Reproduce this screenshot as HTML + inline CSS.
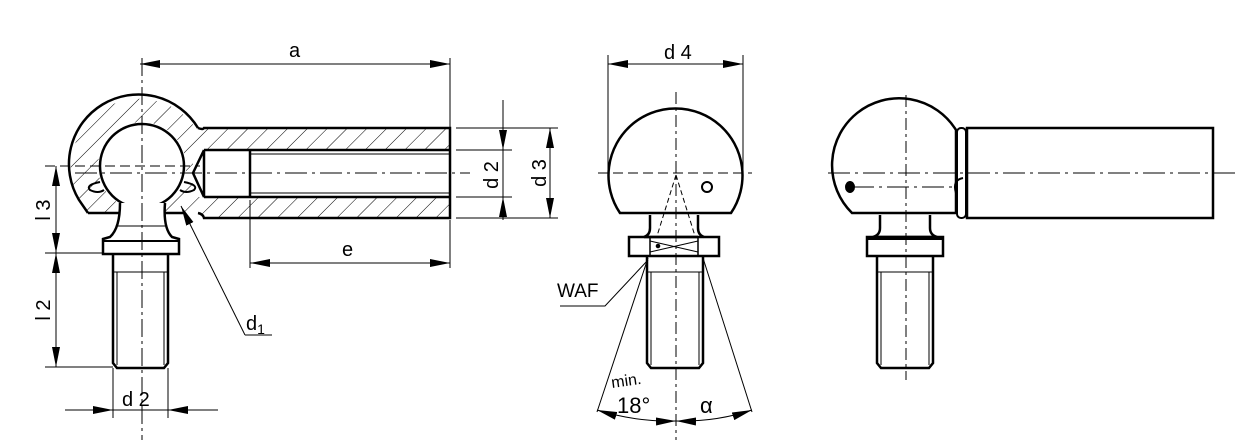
<!DOCTYPE html>
<html><head><meta charset="utf-8"><style>
html,body{margin:0;padding:0;background:#fff;}
svg{display:block;}
text{font-family:"Liberation Sans","DejaVu Sans",sans-serif;fill:#000;}
</style></head><body>
<svg width="1244" height="445" viewBox="0 0 1244 445" xmlns="http://www.w3.org/2000/svg">
<defs>
<pattern id="h" patternUnits="userSpaceOnUse" width="14" height="14" patternTransform="rotate(45)">
<line x1="0" y1="0" x2="0" y2="14" stroke="#000" stroke-width="1"/>
</pattern>
<marker id="ar" viewBox="0 0 20 8" refX="20" refY="4" markerWidth="20" markerHeight="8" markerUnits="userSpaceOnUse" orient="auto-start-reverse">
<path d="M0,0 L20,4 L0,8 z" fill="#000"/>
</marker>
</defs>
<g fill="none" stroke="#000">
<!-- ===== LEFT VIEW ===== -->
<path d="M88,213 L79,200 A64,64 0 1 1 200,135 L202,128 L450,128 L450,218 L202,218 L200,212 L177,213 Z" fill="url(#h)" stroke="none"/>
<circle cx="142" cy="166" r="44" fill="#fff" stroke="none"/>
<rect x="193" y="150" width="257" height="47" fill="#fff" stroke="none"/>
<path d="M88,213 L79,200 A64,64 0 1 1 198,128" stroke-width="2.5"/>
<path d="M198,128 Q203,130 204,128 L450,128 L450,218 L204,218 Q203,214 198,213" stroke-width="2.5"/>
<line x1="88" y1="213" x2="120" y2="213" stroke-width="2.5"/>
<line x1="165" y1="213" x2="185" y2="213" stroke-width="2.5"/>
<path d="M204,150 L450,150 M204,197 L450,197 M204,150 L193,173 L204,197 L204,150" stroke-width="2.5"/>
<line x1="250" y1="150" x2="250" y2="197" stroke-width="2.5"/>
<line x1="250" y1="154" x2="450" y2="154" stroke-width="1"/>
<line x1="250" y1="193" x2="450" y2="193" stroke-width="1"/>
<circle cx="142" cy="166" r="42" stroke-width="2.5" fill="#fff"/>
<path d="M100,182 Q85,185 90,190 Q98,194 104,190 M184,182 Q199,185 194,190 Q186,194 180,190" stroke-width="2"/>
<path d="M120,203 Q120,228 110,237 L103,239 L103,254 L179,254 L179,239 L172,237 Q163,228 165,203" stroke-width="2.5" fill="#fff"/>
<line x1="103" y1="241" x2="179" y2="241" stroke-width="2"/>
<line x1="118" y1="226" x2="166" y2="226" stroke-width="1"/>
<path d="M113,254 L113,363 L117,368 L164,368 L168,363 L168,254" stroke-width="2.5"/>
<path d="M117,272 L117,365 M164,272 L164,365 M113,272 L168,272" stroke-width="1"/>
<line x1="142" y1="58" x2="142" y2="440" stroke-width="1" stroke-dasharray="18,4,3,4"/>
<line x1="45" y1="166" x2="200" y2="166" stroke-width="1" stroke-dasharray="10,5"/>
<line x1="75" y1="173" x2="470" y2="173" stroke-width="1" stroke-dasharray="22,5,3,5"/>
<line x1="450" y1="58" x2="450" y2="128" stroke-width="1"/>
<line x1="140" y1="64" x2="450" y2="64" stroke-width="1" marker-start="url(#ar)" marker-end="url(#ar)"/>
<line x1="456" y1="150" x2="512" y2="150" stroke-width="1"/>
<line x1="456" y1="197" x2="512" y2="197" stroke-width="1"/>
<line x1="503" y1="100" x2="503" y2="150" stroke-width="1" marker-end="url(#ar)"/>
<line x1="503" y1="220" x2="503" y2="197" stroke-width="1" marker-end="url(#ar)"/>
<line x1="503" y1="150" x2="503" y2="197" stroke-width="1"/>
<line x1="456" y1="128" x2="558" y2="128" stroke-width="1"/>
<line x1="456" y1="218" x2="558" y2="218" stroke-width="1"/>
<line x1="550" y1="128" x2="550" y2="218" stroke-width="1" marker-start="url(#ar)" marker-end="url(#ar)"/>
<line x1="250" y1="200" x2="250" y2="268" stroke-width="1"/>
<line x1="450" y1="220" x2="450" y2="268" stroke-width="1"/>
<line x1="250" y1="263" x2="450" y2="263" stroke-width="1" marker-start="url(#ar)" marker-end="url(#ar)"/>
<line x1="45" y1="253" x2="103" y2="253" stroke-width="1"/>
<line x1="45" y1="367" x2="113" y2="367" stroke-width="1"/>
<line x1="56" y1="166" x2="56" y2="253" stroke-width="1" marker-start="url(#ar)" marker-end="url(#ar)"/>
<line x1="56" y1="253" x2="56" y2="367" stroke-width="1" marker-start="url(#ar)" marker-end="url(#ar)"/>
<line x1="113" y1="368" x2="113" y2="418" stroke-width="1"/>
<line x1="168" y1="368" x2="168" y2="418" stroke-width="1"/>
<line x1="65" y1="410" x2="113" y2="410" stroke-width="1" marker-end="url(#ar)"/>
<line x1="218" y1="410" x2="168" y2="410" stroke-width="1" marker-end="url(#ar)"/>
<line x1="113" y1="410" x2="168" y2="410" stroke-width="1"/>
<path d="M245,335 L272,335" stroke-width="1"/>
<line x1="245" y1="335" x2="181" y2="206" stroke-width="1" marker-end="url(#ar)"/>

<!-- ===== MIDDLE VIEW ===== -->
<path d="M620,213 A67,67 0 1 1 731,213 Z" stroke-width="2.5"/>
<circle cx="707" cy="187" r="5" stroke-width="2"/>
<path d="M650,215 L650,228 Q650,235 644,237 L698,237 M698,215 L698,228 Q698,235 704,237" stroke-width="2.5"/>
<rect x="629" y="237" width="90" height="19" stroke-width="2.5"/>
<path d="M650,237 L650,256 M698,237 L698,256" stroke-width="1.5"/>
<path d="M650,241 L698,252 M650,252 L698,241" stroke-width="1"/>
<circle cx="658" cy="246" r="1.8" fill="#000"/>
<path d="M647,256 L647,363 L651,368 L699,368 L703,363 L703,256" stroke-width="2.5"/>
<path d="M651,272 L651,365 M699,272 L699,365 M647,272 L703,272" stroke-width="1"/>
<line x1="676" y1="92" x2="676" y2="440" stroke-width="1" stroke-dasharray="12,4,3,4"/>
<line x1="598" y1="173" x2="752" y2="173" stroke-width="1" stroke-dasharray="10,5"/>
<path d="M676,175 L657,236 M676,175 L695,236" stroke-width="1" stroke-dasharray="5,3"/>
<line x1="608" y1="55" x2="608" y2="172" stroke-width="1"/>
<line x1="743" y1="55" x2="743" y2="172" stroke-width="1"/>
<line x1="608" y1="64" x2="743" y2="64" stroke-width="1" marker-start="url(#ar)" marker-end="url(#ar)"/>
<path d="M648,258 L597,412 M703,258 L752,412" stroke-width="1"/>
<path d="M597,410 Q636,422 676,421" stroke-width="1" marker-start="url(#ar)" marker-end="url(#ar)"/>
<path d="M676,421 Q716,422 752,410" stroke-width="1" marker-start="url(#ar)" marker-end="url(#ar)"/>
<path d="M560,306 L605,306 L648,260" stroke-width="1"/>

<!-- ===== RIGHT VIEW ===== -->
<path d="M852,213 A67,67 0 1 1 956,130 L956,213 Z" stroke-width="2.5"/>
<ellipse cx="850" cy="187" rx="4" ry="5" stroke-width="2" fill="#000"/>
<rect x="957" y="128" width="9" height="90" rx="4" stroke-width="2"/>
<path d="M956,193 Q952,180 963,178" stroke-width="2"/>
<rect x="967" y="128" width="246" height="90" stroke-width="2.5"/>
<path d="M880,215 L880,228 Q880,235 873,237 L937,237 M930,215 L930,228 Q930,235 937,237" stroke-width="2.5"/>
<rect x="867" y="237" width="76" height="19" stroke-width="2.5"/>
<line x1="867" y1="239" x2="943" y2="239" stroke-width="2"/>
<path d="M877,256 L877,363 L881,368 L929,368 L933,363 L933,256" stroke-width="2.5"/>
<path d="M881,272 L881,365 M929,272 L929,365 M877,272 L933,272" stroke-width="1"/>
<line x1="906" y1="95" x2="906" y2="380" stroke-width="1" stroke-dasharray="12,4,3,4"/>
<line x1="828" y1="173" x2="1235" y2="173" stroke-width="1" stroke-dasharray="22,5,3,5"/>
<line x1="852" y1="187" x2="952" y2="187" stroke-width="1" stroke-dasharray="22,5,3,5"/>
</g>
<text x="289" y="57" font-size="20">a</text>
<text x="342" y="256" font-size="20">e</text>
<text x="664" y="59" font-size="20">d 4</text>
<text x="122" y="406" font-size="20">d 2</text>
<text x="246" y="330" font-size="20">d<tspan font-size="14" dy="4">1</tspan></text>
<text x="557" y="297" font-size="19">WAF</text>
<text x="612" y="388" font-size="16" transform="rotate(-8 612 388)">min.</text>
<text x="617" y="413" font-size="22">18°</text>
<text x="700" y="413" font-size="22">α</text>
<text transform="translate(498,175) rotate(-90)" font-size="20" text-anchor="middle">d 2</text>
<text transform="translate(546,173) rotate(-90)" font-size="20" text-anchor="middle">d 3</text>
<text transform="translate(50,210) rotate(-90)" font-size="20" text-anchor="middle">l 3</text>
<text transform="translate(50,310) rotate(-90)" font-size="20" text-anchor="middle">l 2</text>
</svg>
</body></html>
